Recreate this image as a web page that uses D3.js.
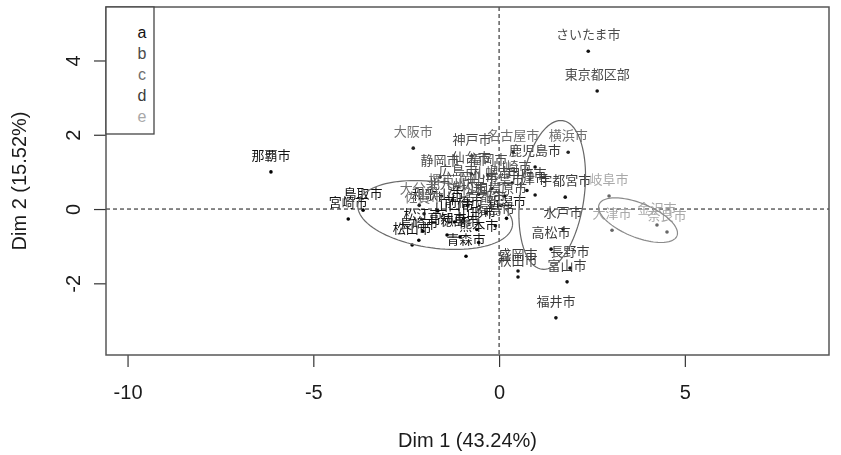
<!DOCTYPE html>
<html><head><meta charset="utf-8">
<script src="https://cdn.jsdelivr.net/npm/d3@7"></script>
<style>body{margin:0;background:#fff} svg text{-webkit-font-smoothing:antialiased}</style>
</head><body>
<svg id="c" width="841" height="455"></svg>
<script>
// ---- data ----
const cities = ["札幌市","青森市","盛岡市","仙台市","秋田市","山形市","福島市","水戸市","宇都宮市","前橋市","さいたま市","千葉市","東京都区部","横浜市","川崎市","相模原市","新潟市","富山市","金沢市","福井市","甲府市","長野市","岐阜市","静岡市","浜松市","名古屋市","津市","大津市","京都市","大阪市","堺市","神戸市","奈良市","和歌山市","鳥取市","松江市","岡山市","広島市","山口市","徳島市","高松市","松山市","高知市","福岡市","北九州市","佐賀市","長崎市","熊本市","大分市","宮崎市","鹿児島市","那覇市"];
const dim1 = [-0.20,-0.89,0.51,-0.75,0.51,-0.60,-0.10,1.72,1.78,-0.95,2.40,0.15,2.64,1.86,0.35,0.05,0.20,1.83,4.25,1.53,0.75,1.91,2.96,-1.59,-0.85,0.38,0.97,3.04,-0.35,-2.31,-1.55,-0.73,4.52,-1.65,-3.66,-2.05,-0.55,-1.10,-1.20,-1.05,1.40,-2.34,-1.40,-0.30,-1.25,-2.02,-2.16,-0.55,-2.15,-4.06,0.97,-6.14];
const dim2 = [0.55,-1.27,-1.67,0.95,-1.83,-0.55,-0.45,-0.54,0.32,-0.25,4.25,0.35,3.18,1.53,0.70,0.10,-0.25,-1.96,-0.43,-2.93,0.50,-1.59,0.35,0.86,0.10,1.53,0.38,-0.57,-0.10,1.64,0.35,1.43,-0.62,-0.05,-0.03,-0.60,0.40,0.60,-0.35,-0.75,-1.08,-0.97,-0.70,0.90,0.25,-0.13,-0.84,-0.90,0.10,-0.27,1.13,1.00];
const groups = ["b","a","d","b","d","a","d","d","d","a","b","b","b","c","b","b","a","d","e","d","d","d","e","b","b","c","d","e","b","c","c","b","e","a","a","a","b","b","a","a","d","a","a","b","b","c","a","a","c","a","d","a"];
const groupNames = ["a","b","c","d","e"];
const groupColors = ["#111111","#4a4a4a","#6e6e6e","#3a3a3a","#a8a8a8"];
const pointColors = ["#000000","#111111","#222222","#111111","#666666"];
const xTicks = [-10,-5,0,5];
const yTicks = [-2,0,2,4];
const xLabel = "Dim 1 (43.24%)";
const yLabel = "Dim 2 (15.52%)";
// ellipses (centre, semi-axes, rotation in degrees), data units
const ellipseGroups = ["b","d","e"];
const ellipseCx = [-1.72, 1.43, 3.74];
const ellipseCy = [-0.16, 0.38, -0.30];
const ellipseA = [2.10, 2.02, 1.13];
const ellipseB = [0.89, 0.86, 0.46];
const ellipseAngle = [-8, 82, -22];
const ellipseColors = ["#6a6a6a","#666666","#8a8a8a"];

// ---- layout ----
const svg = d3.select("#c");
const L = 106, R = 829, T = 7, B = 355;
const x = d3.scaleLinear().domain([-10.58, 8.88]).range([L, R]);
const y = d3.scaleLinear().domain([-3.93, 5.44]).range([B, T]);
const color = d3.scaleOrdinal().domain(groupNames).range(groupColors);
const pcolor = d3.scaleOrdinal().domain(groupNames).range(pointColors);
const fmt = d => String(d);

svg.append("defs").append("clipPath").attr("id","clip")
  .append("rect").attr("x",L).attr("y",T).attr("width",R-L).attr("height",B-T);

const root = svg.append("g").attr("opacity",0.995);

// axes
const fontAxis = "'Liberation Sans', Arial, sans-serif";
const gx = root.append("g").attr("transform",`translate(0,${B})`)
  .call(d3.axisBottom(x).tickValues(xTicks).tickSize(12).tickPadding(18).tickFormat(fmt));
gx.select(".domain").remove();
gx.selectAll("line").attr("stroke","#333").attr("stroke-width",1.2);
gx.selectAll("text").attr("font-family",fontAxis).attr("font-size",20).attr("fill","#1a1a1a");

const gy = root.append("g").attr("transform",`translate(${L},0)`)
  .call(d3.axisLeft(y).tickValues(yTicks).tickSize(12).tickFormat(fmt));
gy.select(".domain").remove();
gy.selectAll("line").attr("stroke","#333").attr("stroke-width",1.2);
gy.selectAll("text").attr("font-family",fontAxis).attr("font-size",20).attr("fill","#1a1a1a")
  .attr("transform","rotate(-90)").attr("x",0).attr("y",-26).attr("dy",null)
  .attr("text-anchor","middle");

root.append("text").attr("x",(L+R)/2).attr("y",447).attr("text-anchor","middle")
  .attr("font-family",fontAxis).attr("font-size",20).attr("fill","#1a1a1a").text(xLabel);
root.append("text").attr("transform",`translate(26,${(T+B)/2}) rotate(-90)`).attr("text-anchor","middle")
  .attr("font-family",fontAxis).attr("font-size",20).attr("fill","#1a1a1a").text(yLabel);

const plot = root.append("g").attr("clip-path","url(#clip)");

// dashed zero lines
plot.append("line").attr("x1",x(0)).attr("x2",x(0)).attr("y1",T).attr("y2",B)
  .attr("stroke","#111").attr("stroke-width",1).attr("stroke-dasharray","4,3");
plot.append("line").attr("x1",L).attr("x2",R).attr("y1",y(0)).attr("y2",y(0))
  .attr("stroke","#111").attr("stroke-width",1).attr("stroke-dasharray","4,3");

// points and labels
const pts = cities.map((c,i)=>({name:c, d1:dim1[i], d2:dim2[i], g:groups[i]}));
plot.selectAll("circle.pt").data(pts).enter().append("circle")
  .attr("cx",d=>x(d.d1)).attr("cy",d=>y(d.d2)).attr("r",1.8)
  .attr("fill",d=>pcolor(d.g));
plot.selectAll("text.lab").data(pts).enter().append("text")
  .attr("x",d=>x(d.d1)).attr("y",d=>y(d.d2)-12).attr("text-anchor","middle")
  .attr("font-family","'Noto Sans CJK JP', sans-serif").attr("font-size",13)
  .attr("fill",d=>color(d.g)).text(d=>d.name);

// ellipses
const line = d3.line().x(p=>x(p[0])).y(p=>y(p[1]));
ellipseGroups.forEach((g,k)=>{
  const phi = ellipseAngle[k]*Math.PI/180;
  const ptsE = d3.range(0,101).map(j=>{
    const t = j/100*2*Math.PI;
    const u = ellipseA[k]*Math.cos(t), v = ellipseB[k]*Math.sin(t);
    return [ellipseCx[k] + u*Math.cos(phi) - v*Math.sin(phi),
            ellipseCy[k] + u*Math.sin(phi) + v*Math.cos(phi)];
  });
  plot.append("path").attr("d",line(ptsE)).attr("fill","none")
    .attr("stroke",ellipseColors[k]).attr("stroke-width",1.2);
});

// frame
root.append("rect").attr("x",L).attr("y",T).attr("width",R-L).attr("height",B-T)
  .attr("fill","none").attr("stroke","#555").attr("stroke-width",1.5);

// legend
const lg = root.append("g");
lg.append("rect").attr("x",L).attr("y",T).attr("width",48).attr("height",127)
  .attr("fill","#fff").attr("stroke","#444").attr("stroke-width",1.3);
lg.selectAll("text").data(groupNames).enter().append("text")
  .attr("x",142).attr("y",(d,i)=>38+i*21).attr("text-anchor","middle")
  .attr("font-family",fontAxis).attr("font-size",16)
  .attr("fill",d=>color(d)).text(d=>d);
</script>
</body></html>
